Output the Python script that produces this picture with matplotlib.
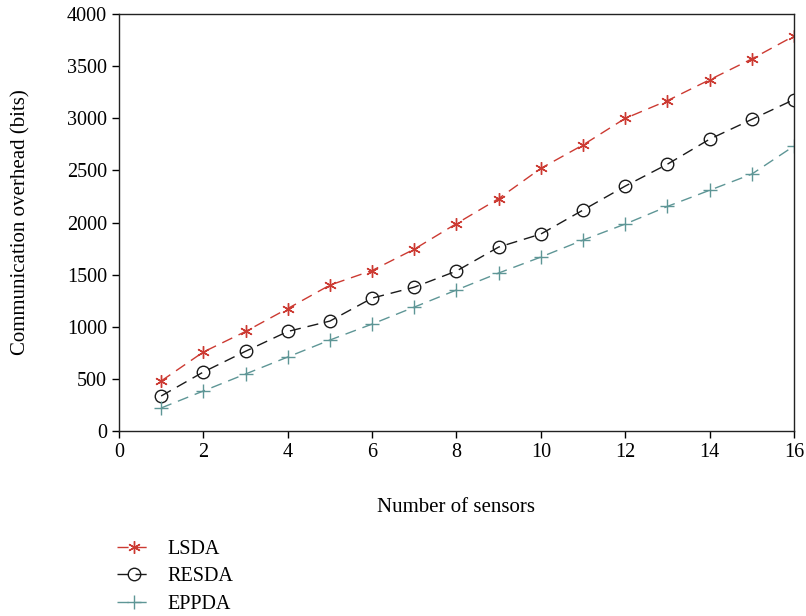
import matplotlib
matplotlib.use('Agg')
import matplotlib.pyplot as plt
import numpy as np

# data
sensors = np.arange(1, 17)
lsda = [480, 758, 955, 1175, 1400, 1540, 1745, 1990, 2230, 2520, 2745, 3000, 3170, 3370, 3570, 3790]
resda = [336, 566, 765, 955, 1055, 1275, 1380, 1535, 1765, 1890, 2120, 2350, 2560, 2800, 2990, 3180]
eppda = [221, 384, 547, 710, 873, 1026, 1189, 1353, 1516, 1669, 1832, 1986, 2155, 2310, 2465, 2734]

plt.rcParams['font.family'] = ['Liberation Serif', 'DejaVu Serif']
plt.rcParams['font.size'] = 14.5

fig = plt.figure(figsize=(8.06, 6.16), dpi=100)
ax = fig.add_axes([0.1476, 0.3003, 0.8374, 0.6767])

dash = (0, (8, 5))
ax.plot(sensors, lsda, color='#cc3a32', linestyle=dash, linewidth=1.0,
        marker=(6, 2, 0), markersize=9, markeredgewidth=1.0, label='LSDA')
ax.plot(sensors, resda, color='#1a1a1a', linestyle=dash, linewidth=1.0,
        marker='o', markersize=9, markerfacecolor='none', markeredgewidth=1.0, label='RESDA')
ax.plot(sensors, eppda, color='#5e9696', linestyle=dash, linewidth=1.0,
        marker='+', markersize=10, markeredgewidth=1.0, label='EPPDA')

ax.set_xlim(0, 16)
ax.set_ylim(0, 4000)
ax.set_xticks(np.arange(0, 17, 2))
ax.set_yticks(np.arange(0, 4001, 500))
ax.tick_params(direction='out', length=5, width=1, top=False, right=False, labelsize=14.5)
for s in ax.spines.values():
    s.set_linewidth(1.0)
    s.set_color('#222222')

ax.set_xlabel('Number of sensors', fontsize=15, labelpad=26)
ax.set_ylabel('Communication overhead (bits)', fontsize=15, labelpad=26)

ax.legend(loc='upper left', bbox_to_anchor=(0.145, 0.124), bbox_transform=fig.transFigure,
          frameon=False, handlelength=1.7, handletextpad=0.8, labelspacing=0.42,
          borderaxespad=0, borderpad=0, fontsize=14.5)

fig.savefig('out.png', dpi=100)
